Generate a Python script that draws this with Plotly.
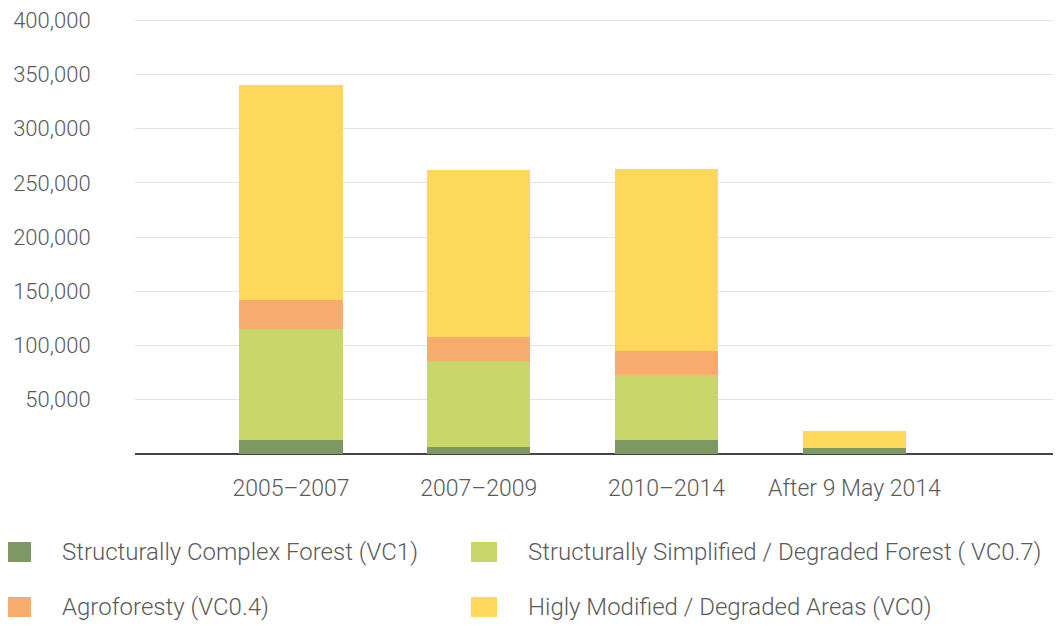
import plotly.graph_objects as go

categories = ["2005–2007", "2007–2009", "2010–2014", "After 9 May 2014"]
series_names = [
    "Structurally Complex Forest (VC1)",
    "Structurally Simplified / Degraded Forest ( VC0.7)",
    "Agroforesty (VC0.4)",
    "Higly Modified / Degraded Areas (VC0)",
]
vc1 = [13000, 6700, 13000, 5800]
vc07 = [102000, 79000, 59800, 0]
vc04 = [26600, 22100, 22100, 0]
vc0 = [198500, 154000, 167800, 15400]
colors = ["#7e9864", "#c9d66a", "#f7ab6d", "#fed85b"]
ytick_vals = [50000, 100000, 150000, 200000, 250000, 300000, 350000, 400000]
ytick_text = ["50,000", "100,000", "150,000", "200,000", "250,000", "300,000", "350,000", "400,000"]

font_family = "Roboto, 'DejaVu Sans', sans-serif"
text_color = "#5a5a5a"

fig = go.Figure()
for name, vals, col in zip(series_names, [vc1, vc07, vc04, vc0], colors):
    fig.add_trace(go.Bar(x=categories, y=vals, name=name, marker_color=col,
                         marker_line_width=0, width=0.55, showlegend=False))

fig.update_layout(
    barmode="stack",
    width=1061, height=626,
    margin=dict(l=127, r=8, t=11, b=180, autoexpand=False),
    plot_bgcolor="white", paper_bgcolor="white",
    font=dict(family=font_family, size=23, color=text_color, weight=300),
    xaxis=dict(
        type="category", range=[-0.83, 4.1], showgrid=False,
        showline=False, zeroline=False, automargin=False,
        ticks="outside", ticklen=13, tickcolor="rgba(0,0,0,0)",
        tickfont=dict(size=23, color=text_color, weight=300),
    ),
    yaxis=dict(
        range=[0, 401000], tickvals=ytick_vals, ticktext=ytick_text,
        showgrid=True, gridcolor="#e3e3e3", gridwidth=1,
        zeroline=True, zerolinecolor="#444444", zerolinewidth=1.5,
        showline=False, ticklabeloverflow="allow", automargin=False,
        ticks="outside", ticklen=39, tickcolor="rgba(0,0,0,0)",
        tickfont=dict(size=22, color=text_color, weight=300),
    ),
)

# Custom legend placed in paper coordinates
PL, PW, PB, PH = 135, 926, 454, 435
legend_pos = [(5, 552), (471, 552), (5, 607), (471, 607)]
for (px, py), name, col in zip(legend_pos, series_names, colors):
    fig.add_shape(type="rect", xref="paper", yref="paper",
                  x0=(px - PL) / PW, x1=(px + 26 - PL) / PW,
                  y0=(PB - (py + 10)) / PH, y1=(PB - (py - 10)) / PH,
                  fillcolor=col, line_width=0)
    fig.add_annotation(xref="paper", yref="paper",
                       x=(px + 55 - PL) / PW, y=(PB - py) / PH,
                       text=name, showarrow=False, xanchor="left", yanchor="middle",
                       font=dict(size=24, color=text_color, family=font_family, weight=300))

fig.write_html("out.html")
